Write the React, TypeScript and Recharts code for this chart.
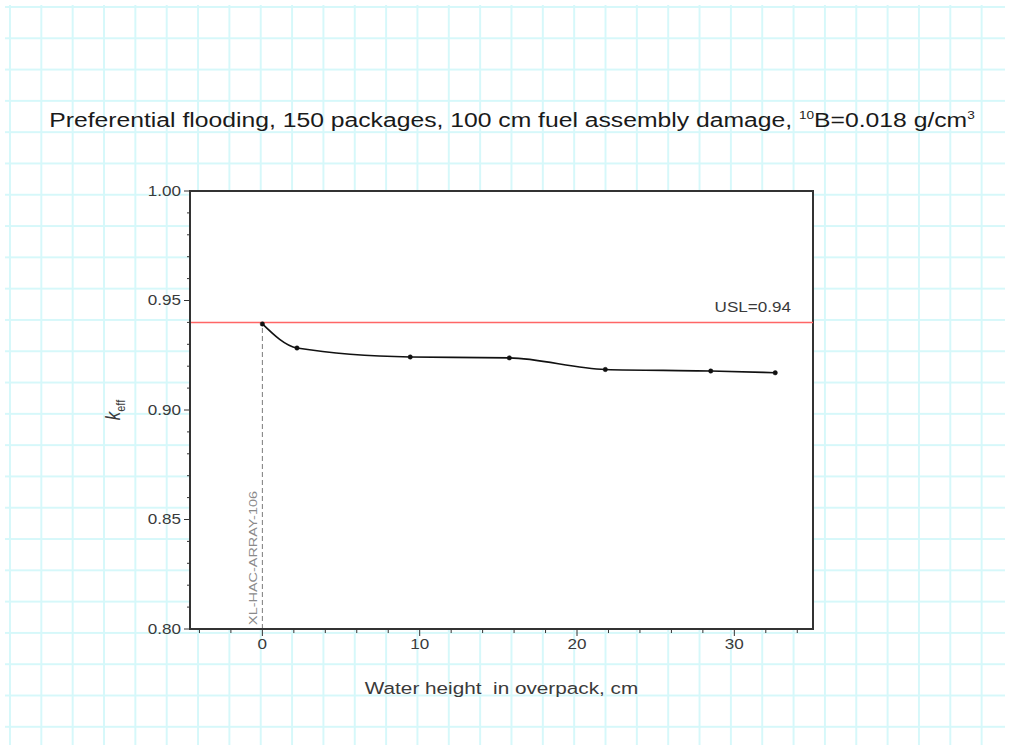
import React from 'react';
import {
  ComposedChart,
  Line,
  XAxis,
  YAxis,
  ReferenceLine,
  ReferenceArea,
  CartesianGrid,
  Label,
} from 'recharts';

// Water height in the overpack (cm) and the resulting k_eff
const waterHeight = [0, 2.2, 9.4, 15.7, 21.8, 28.5, 32.6];
const kEff = [0.9393, 0.9283, 0.9242, 0.9238, 0.9185, 0.9178, 0.917];

// Upper subcritical limit
const usl = 0.94;
const uslLabel = 'USL=0.94';
const caseLabel = 'XL-HAC-ARRAY-106';

// Axis ranges and ticks (labelled ticks are a subset of all ticks)
const xDomain = [-4.6, 35];
const yDomain = [0.8, 1.0];
const xMajorTicks = [0, 10, 20, 30];
const xAllTicks = [-4, -2, 0, 2, 4, 6, 8, 10, 12, 14, 16, 18, 20, 22, 24, 26, 28, 30, 32, 34];
const yMajorTicks = [0.8, 0.85, 0.9, 0.95, 1.0];
const yAllTicks = [
  0.8, 0.81, 0.82, 0.83, 0.84, 0.85, 0.86, 0.87, 0.88, 0.89, 0.9,
  0.91, 0.92, 0.93, 0.94, 0.95, 0.96, 0.97, 0.98, 0.99, 1.0,
];

const data = waterHeight.map((x, i) => ({ x, k: kEff[i] }));

const FONT = '"Liberation Sans", Arial, Helvetica, sans-serif';
const STRETCH = 1.22;
const AXIS = '#333';
const TEXT = '#3a3a3a';

const isMajor = (v: number, majors: number[]) => majors.some((m) => Math.abs(m - v) < 1e-9);

// Bottom axis tick: line plus (for major ticks) a label
const XTick = (props: any) => {
  const { x, y, payload } = props;
  const major = isMajor(payload.value, xMajorTicks);
  const len = major ? 7 : 4;
  return (
    <g transform={`translate(${x},${y})`}>
      <line x1={0} y1={0} x2={0} y2={len} stroke={AXIS} strokeWidth={1} />
      {major && (
        <text
          transform={`translate(0,${len + 3}) scale(${STRETCH},1)`}
          textAnchor="middle"
          dy="0.71em"
          fontSize={14}
          fontFamily={FONT}
          fill={TEXT}
        >
          {String(payload.value)}
        </text>
      )}
    </g>
  );
};

// Left axis tick: line plus (for major ticks) a label
const YTick = (props: any) => {
  const { x, y, payload } = props;
  const major = isMajor(payload.value, yMajorTicks);
  const len = major ? 6 : 3;
  return (
    <g transform={`translate(${x},${y})`}>
      <line x1={0} y1={0} x2={-len} y2={0} stroke={AXIS} strokeWidth={1} />
      {major && (
        <text
          transform={`translate(${-(len + 3)},0) scale(${STRETCH},1)`}
          textAnchor="end"
          dy="0.355em"
          fontSize={14}
          fontFamily={FONT}
          fill={TEXT}
        >
          {Number(payload.value).toFixed(2)}
        </text>
      )}
    </g>
  );
};

const XTitle = (props: any) => {
  const { viewBox } = props;
  const cx = viewBox.x + viewBox.width / 2;
  const cy = viewBox.y + viewBox.height + 35;
  return (
    <g transform={`translate(${cx},${cy})`}>
      <text
        transform={`scale(${STRETCH},1)`}
        textAnchor="middle"
        fontSize={17}
        fontFamily={FONT}
        fill={TEXT}
        style={{ whiteSpace: 'pre' }}
      >
        {'Water height  in overpack, cm'}
      </text>
    </g>
  );
};

const YTitle = (props: any) => {
  const { viewBox } = props;
  const cx = viewBox.x - 10;
  const cy = viewBox.y + viewBox.height / 2;
  return (
    <g transform={`translate(${cx},${cy}) rotate(-90)`}>
      <text textAnchor="middle" fontFamily={FONT} fill={TEXT} transform={`scale(1,${STRETCH})`}>
        <tspan fontSize={17} fontStyle="italic">k</tspan>
        <tspan fontSize={11} dy={4}>eff</tspan>
      </text>
    </g>
  );
};

const UslText = (props: any) => {
  const { viewBox } = props;
  const rx = viewBox.x + viewBox.width - 22;
  const ry = viewBox.y - 10;
  return (
    <g transform={`translate(${rx},${ry})`}>
      <text transform={`scale(${STRETCH},1)`} textAnchor="end" fontSize={14} fontFamily={FONT} fill={TEXT}>
        {uslLabel}
      </text>
    </g>
  );
};

const CaseText = (props: any) => {
  const { viewBox } = props;
  const lx = viewBox.x - 5;
  const by = viewBox.y + (viewBox.height || 0) - 4;
  return (
    <text
      transform={`translate(${lx},${by}) rotate(-90)`}
      textAnchor="start"
      fontSize={11}
      fontFamily={FONT}
      fill="#8a8a8a"
      textLength={134}
      lengthAdjust="spacingAndGlyphs"
    >
      {caseLabel}
    </text>
  );
};

export default function App() {
  return (
    <div style={{ position: 'absolute', left: 0, top: 0, width: 1024, height: 754, background: '#fff', overflow: 'hidden' }}>
      {/* grid-paper page background */}
      <div
        style={{
          position: 'absolute',
          left: 5,
          top: 5,
          width: 1000,
          height: 740,
          backgroundImage:
            'linear-gradient(to right, #d6f8fa 2px, transparent 2px), linear-gradient(to bottom, #d6f8fa 2px, transparent 2px)',
          backgroundSize: '31.35px 31.3px',
          backgroundPosition: '4px 1px',
        }}
      />
      <div
        style={{
          position: 'absolute',
          left: 0,
          top: 108,
          width: 1024,
          textAlign: 'center',
          fontFamily: FONT,
          fontSize: 20,
          color: '#1a1a1a',
          whiteSpace: 'nowrap',
          transform: `scaleX(1.235)`,
          transformOrigin: '512px 0',
          lineHeight: '24px',
        }}
      >
        Preferential flooding, 150 packages, 100 cm fuel assembly damage,{' '}
        <sup style={{ fontSize: 11, verticalAlign: 'top', lineHeight: '14px' }}>10</sup>B=0.018 g/cm
        <sup style={{ fontSize: 11, verticalAlign: 'top', lineHeight: '14px' }}>3</sup>
      </div>
      <div style={{ position: 'absolute', left: 0, top: 0 }}>
        <ComposedChart
          width={1024}
          height={754}
          data={data}
          margin={{ top: 191, right: 211, bottom: 95, left: 130 }}
        >
          <CartesianGrid xAxisId="main" yAxisId="main" fill="#ffffff" horizontal={false} vertical={false} />
          <XAxis
            xAxisId="main"
            type="number"
            dataKey="x"
            domain={xDomain}
            ticks={xAllTicks}
            interval={0}
            tickSize={0}
            tickMargin={0}
            height={30}
            axisLine={{ stroke: AXIS, strokeWidth: 2 }}
            tickLine={false}
            tick={<XTick />}
            allowDataOverflow
          >
            <Label content={<XTitle />} />
          </XAxis>
          <YAxis
            yAxisId="main"
            type="number"
            domain={yDomain}
            ticks={yAllTicks}
            interval={0}
            tickSize={0}
            tickMargin={0}
            width={60}
            axisLine={{ stroke: AXIS, strokeWidth: 2 }}
            tickLine={false}
            tick={<YTick />}
            allowDataOverflow
          >
            <Label content={<YTitle />} />
          </YAxis>
          <ReferenceArea
            xAxisId="main"
            yAxisId="main"
            x1={xDomain[0]}
            x2={xDomain[1]}
            y1={yDomain[0]}
            y2={yDomain[1]}
            fill="none"
            fillOpacity={0}
            stroke={AXIS}
            strokeWidth={2}
            ifOverflow="visible"
          />
          <ReferenceLine
            xAxisId="main"
            yAxisId="main"
            y={usl}
            stroke="#ff6666"
            strokeWidth={1.5}
            label={<UslText />}
          />
          <ReferenceLine
            xAxisId="main"
            yAxisId="main"
            segment={[
              { x: waterHeight[0], y: yDomain[0] },
              { x: waterHeight[0], y: kEff[0] },
            ]}
            stroke="#7a7a7a"
            strokeWidth={1}
            strokeDasharray="5 3"
            label={<CaseText />}
          />
          <Line
            xAxisId="main"
            yAxisId="main"
            type="monotone"
            dataKey="k"
            stroke="#111"
            strokeWidth={1.6}
            dot={{ r: 2.2, fill: '#111', stroke: '#111', strokeWidth: 0.5 }}
            isAnimationActive={false}
          />
        </ComposedChart>
      </div>
    </div>
  );
}
